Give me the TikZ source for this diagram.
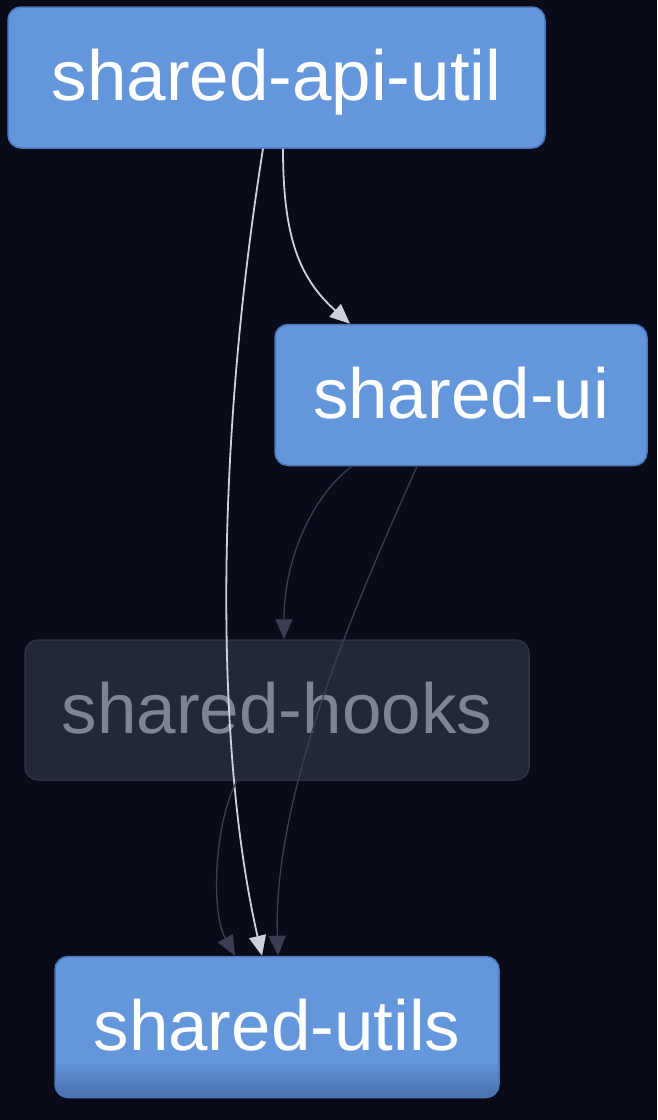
\documentclass[tikz,border=0pt]{standalone}
\usepackage{fontspec}
\setmainfont{Liberation Sans}
\usetikzlibrary{arrows.meta,positioning}
\definecolor{bgnavy}{HTML}{090B19}
\definecolor{pkgfill}{HTML}{6496DB}
\definecolor{pkgline}{HTML}{4B78BE}
\definecolor{pkgshade}{HTML}{4A6EAC}
\definecolor{dimfill}{HTML}{232839}
\definecolor{dimline}{HTML}{2C3244}
\definecolor{dimtext}{HTML}{7E8496}
\definecolor{lightedge}{HTML}{CDD1DD}
\definecolor{darkedge}{HTML}{3A3E52}
\pgfdeclareverticalshading{utilsfade}{100bp}{color(0bp)=(pkgshade); color(25bp)=(pkgshade); color(38bp)=(pkgfill); color(100bp)=(pkgfill)}

\begin{document}
\begin{tikzpicture}[
    x=1pt,y=1pt,
    pkg/.style={draw=pkgline,fill=pkgfill,line width=1.5pt,rounded corners=13pt,minimum height=141pt,inner sep=0pt,text=white,font=\fontsize{71}{80}\selectfont,text height=60pt,text depth=14pt},
    dimpkg/.style={pkg,draw=dimline,fill=dimfill,text=dimtext},
    arrow/.style={-{Triangle[length=20pt,width=17pt]},line width=1.8pt,draw=lightedge},
    dimarrow/.style={arrow,line width=1.3pt,draw=darkedge}
  ]
    \useasboundingbox[fill=bgnavy] (0,0) rectangle (657,-1120);
    \node[pkg,minimum width=537pt] (api) at (276.5,-77.5) {shared-api-util};
    \node[pkg,minimum width=372pt,below right=175pt and 267pt of api.south west] (ui) {shared-ui};
    \node[dimpkg,minimum width=504pt,minimum height=140pt] (hooks) at (277,-710) {shared-hooks};
    \node[pkg,minimum width=444pt,below=175pt of hooks,
      path picture={\shade[sharp corners,shading=utilsfade]
        (path picture bounding box.south west) rectangle (path picture bounding box.north east);}] (utils) {shared-utils};
    \draw[arrow] ([xshift=6.5pt]api.south) .. controls +(0,-90) and +(-50,45) .. ([xshift=-111pt]ui.north);
    \draw[arrow] ([xshift=-13.5pt]api.south) .. controls +(-48,-302) and +(-47,205) .. ([xshift=-15pt]utils.north);
    \draw[dimarrow] ([xshift=-109pt]ui.south) .. controls +(-40,-30) and +(0,80) .. ([xshift=7pt]hooks.north);
    \draw[dimarrow] ([xshift=-44pt]ui.south) .. controls +(-42,-96) and +(-6,175) .. ([xshift=1pt]utils.north);
    \draw[dimarrow] ([xshift=-40pt]hooks.south) .. controls +(-22,-40) and +(-25,45) .. ([xshift=-42pt]utils.north);
  \end{tikzpicture}
\end{document}
